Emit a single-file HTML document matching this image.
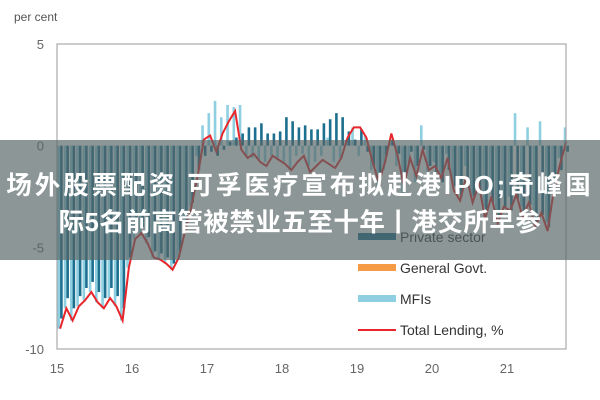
<!DOCTYPE html>
<html><head><meta charset="utf-8"><style>
body{margin:0;width:600px;height:400px;overflow:hidden;background:#fff;font-family:"Liberation Sans","Noto Sans CJK SC",sans-serif}
svg{position:absolute;left:0;top:0}
#banner{position:absolute;left:0;top:140px;width:600px;height:120px;background:rgba(85,100,100,0.68);color:#fff;font-weight:bold;font-size:25.5px;text-align:center;line-height:37px;padding-top:28px;box-sizing:border-box;font-family:"Liberation Sans","Noto Sans CJK SC",sans-serif;white-space:nowrap}
#l1{letter-spacing:3px}
#l2{letter-spacing:0.5px}
</style></head><body>
<svg id="chart" width="600" height="400"></svg>
<div id="banner"><span id="l1">场外股票配资 可孚医疗宣布拟赴港IPO;奇峰国</span><br><span id="l2">际5名前高管被禁业五至十年丨港交所早参</span></div>
<script>
const yTicks=[5,0,-5,-10];
const yTickLabels=["5","0","-5","-10"];
const xLabels=["15","16","17","18","19","20","21"];
const privateSector=[-8.5,-7.5,-8,-7.4,-7,-6.7,-7.2,-7.5,-7,-7.4,-8,-5.5,
-4.3,-4,-4.5,-5.2,-5.3,-5.5,-5.8,-5.2,-4,-2.8,-1.2,-0.5,
-0.3,-0.5,-0.2,0.2,0.4,0.6,0.9,0.9,1.1,0.6,0.6,0.7,
1.4,1.2,0.9,1.0,0.8,0.8,1.1,1.3,1.6,1.4,0.7,0.3,
0.8,-0.3,-1.0,-1.5,-0.5,0.3,-0.4,-1.5,-0.3,-1.0,-0.2,-1.0,
-1.3,-1.8,-1.2,-2.0,-2.5,-1.8,-2.5,-2.2,-3.2,-2.8,-3.5,-3.0,
-3.2,-2.6,-3.4,-2.9,-3.9,-3.4,-4.0,-2.4,-1.2,-0.3];
const mfis=[-9,-8,-8.6,-7.9,-7.6,-7.2,-7.7,-8,-7.5,-7.9,-8.6,-6,
-4.6,-4.3,-4.8,-5.5,-5.6,-5.8,-6.1,-5.5,-4.2,-3,-0.5,1.0,
1.6,2.2,1.4,2.0,1.9,2.0,-0.5,-0.6,-0.7,-0.8,-0.5,-0.6,
-0.8,-1.2,-0.5,-0.4,-1,-0.8,-0.5,0.4,-0.8,-0.6,0.3,0.9,
-0.5,0.5,-1.2,-2,-1.2,0.2,-1,-2.4,-1,-1.8,1.0,-1.5,
-0.8,-1.4,-0.4,-1.8,-2.2,-1.0,-2.4,-1.6,-3.0,-2.0,-3.2,-2.5,
-2.5,1.6,-3.0,0.9,-3.5,1.2,-3.8,-1.8,-0.6,0.9];
const totalLending=[-9.0,-8.0,-8.6,-7.9,-7.6,-7.2,-7.7,-8.0,-7.5,-7.9,-8.6,-6.0,
-4.6,-4.3,-4.8,-5.5,-5.6,-5.8,-6.1,-5.5,-4.2,-3.0,-1.5,0.3,
0.5,-0.3,0.6,1.2,1.7,-0.2,-0.6,-0.4,-0.8,-1.0,-0.5,-0.7,
-0.9,-1.2,-0.8,-0.5,-1.3,-1.0,-0.7,-0.9,-1.1,-0.6,0.4,0.9,
0.9,0.4,-0.8,-1.8,-0.8,0.6,-0.5,-2.0,-0.6,-1.5,-0.2,-1.2,
-1.0,-1.6,-0.6,-2.2,-2.7,-1.5,-2.8,-1.9,-3.6,-2.5,-3.8,-3.0,
-3.2,-2.4,-3.5,-2.8,-4.0,-3.3,-4.2,-2.2,-0.9,0.2];
const legendLabels=["Private sector","General Govt.","MFIs","Total Lending, %"];

const NS="http://www.w3.org/2000/svg";
const svg=document.getElementById('chart');
const X0=57,X1=566,Ytop=44,Ybot=349,monthW=75/12;
const y=v=>Ytop+(5-v)*(Ybot-Ytop)/15;
const x=i=>X0+i*monthW;
function el(t,a,p){const e=document.createElementNS(NS,t);for(const k in a)e.setAttribute(k,a[k]);(p||svg).appendChild(e);return e;}
const t0=el('text',{x:14,y:21,'font-size':12,fill:'#555'});t0.textContent='per cent';


yTicks.forEach((v,i)=>{const t=el('text',{x:44,y:y(v)+5,'font-size':13,fill:'#666','text-anchor':'end'});t.textContent=yTickLabels[i];

});
xLabels.forEach((l,i)=>{const t=el('text',{x:X0+i*75,y:373,'font-size':13,fill:'#666','text-anchor':'middle'});t.textContent=l;

});
mfis.forEach((v,i)=>{const r=el('rect',{x:x(i)+0.5,y:Math.min(y(v),y(0)),width:2.6,height:Math.abs(y(v)-y(0)),fill:'#8ecfe2'});

});
privateSector.forEach((v,i)=>{const r=el('rect',{x:x(i)+3.1,y:Math.min(y(v),y(0)),width:2.6,height:Math.abs(y(v)-y(0)),fill:'#1c6f8f'});

});
const pl=el('polyline',{points:totalLending.map((v,i)=>(x(i)+3.1)+','+y(v)).join(' '),fill:'none',stroke:'#e8262b','stroke-width':2});


const fr=el('rect',{x:X0,y:Ytop,width:X1-X0,height:Ybot-Ytop,fill:'none',stroke:'#aaa','stroke-width':1.2});


const cols=['#1c6f8f','#f59a45','#8ecfe2','#e8262b'];
legendLabels.forEach((l,i)=>{const yy=237+i*31;
const s=el('rect',{x:358,y:i==3?yy-1:yy-4,width:38,height:i==3?2:7,fill:cols[i]});


const t=el('text',{x:400,y:yy+5,'font-size':14,fill:'#333'});t.textContent=l;

});
</script>
</body></html>
